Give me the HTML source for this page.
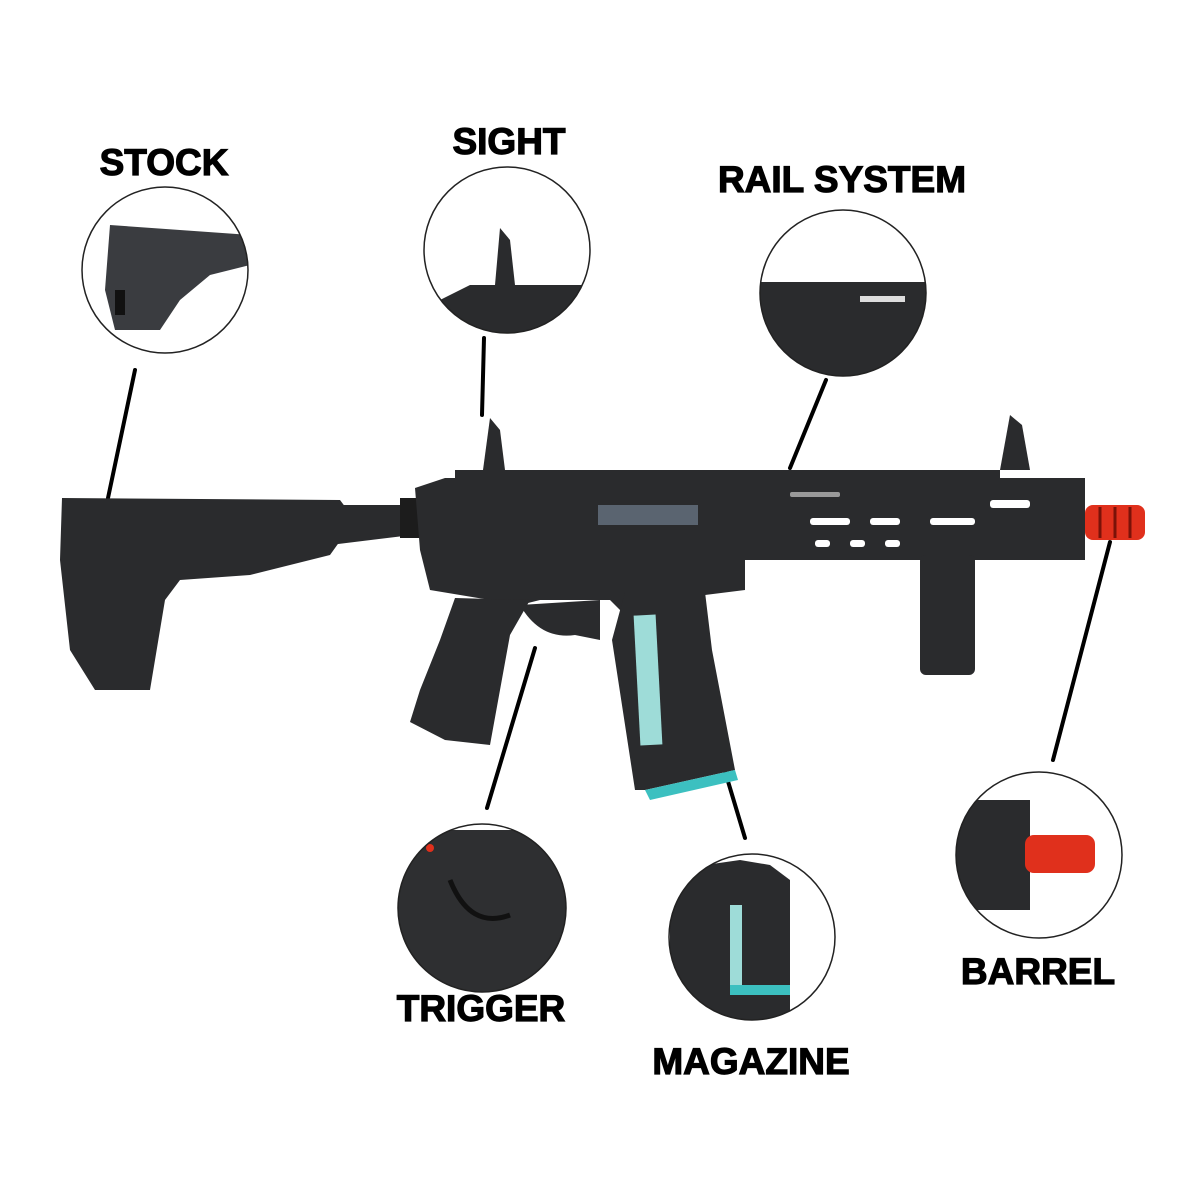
<!DOCTYPE html>
<html><head><meta charset="utf-8"><style>
html,body{margin:0;padding:0;background:#fff;}
svg{display:block}
text{font-family:"Liberation Sans",sans-serif;font-weight:bold;fill:#000;stroke:#000;stroke-width:1.2;text-anchor:middle}
</style></head><body>
<svg width="1200" height="1200" viewBox="0 0 1200 1200" xmlns="http://www.w3.org/2000/svg">
<defs>
<clipPath id="c1"><circle cx="165" cy="270" r="83"/></clipPath>
<clipPath id="c2"><circle cx="507" cy="250" r="83"/></clipPath>
<clipPath id="c3"><circle cx="843" cy="293" r="83"/></clipPath>
<clipPath id="c4"><circle cx="1039" cy="855" r="83"/></clipPath>
<clipPath id="c5"><circle cx="482" cy="908" r="84"/></clipPath>
<clipPath id="c6"><circle cx="752" cy="937" r="83"/></clipPath>
</defs>
<rect width="1200" height="1200" fill="#fff"/>

<text x="164" y="175" font-size="37">STOCK</text>
<text x="509" y="154" font-size="37">SIGHT</text>
<text x="842" y="192" font-size="37">RAIL SYSTEM</text>
<text x="1038" y="984" font-size="37">BARREL</text>
<text x="481" y="1021" font-size="37">TRIGGER</text>
<text x="751" y="1074" font-size="37">MAGAZINE</text>

<g stroke="#000" stroke-width="4" stroke-linecap="round">
<line x1="135" y1="370" x2="108" y2="498"/>
<line x1="484" y1="338" x2="482" y2="415"/>
<line x1="826" y1="380" x2="790" y2="468"/>
<line x1="1110" y1="542" x2="1053" y2="760"/>
<line x1="535" y1="648" x2="487" y2="808"/>
<line x1="712" y1="728" x2="745" y2="838"/>
</g>

<g fill="#2a2b2d">
<polygon points="62,498 340,500 355,520 330,555 250,575 180,580 165,600 150,690 95,690 70,650 60,560"/>
<polygon points="330,505 410,505 412,535 330,545"/>
<rect x="400" y="498" width="20" height="40" fill="#1c1c1c"/>
<polygon points="415,488 445,478 745,478 745,590 705,595 700,620 630,620 610,600 540,600 520,605 430,590 420,550"/>
<rect x="740" y="478" width="345" height="82"/>
<rect x="455" y="470" width="545" height="10"/>
<polygon points="455,598 530,600 510,635 490,745 445,740 410,722 420,690 440,640"/>
<path d="M520,605 Q540,640 575,635 L600,640 L600,600 Z"/>
<polygon points="625,592 705,592 712,650 735,770 645,790 635,790 612,640"/>
<rect x="920" y="555" width="55" height="120" rx="6"/>
<polygon points="483,470 490,418 500,430 505,470"/>
<polygon points="1000,470 1010,415 1022,425 1030,470"/>
</g>
<rect x="637" y="615" width="22" height="130" fill="#9edcd8" transform="rotate(-3 648 680)"/>
<polygon points="645,790 735,770 738,780 650,800" fill="#3cc0c0"/>
<g fill="#fff">
<rect x="810" y="518" width="40" height="7" rx="3"/>
<rect x="870" y="518" width="30" height="7" rx="3"/>
<rect x="930" y="518" width="45" height="7" rx="3"/>
<rect x="815" y="540" width="15" height="7" rx="3"/>
<rect x="850" y="540" width="15" height="7" rx="3"/>
<rect x="885" y="540" width="15" height="7" rx="3"/>
<rect x="990" y="500" width="40" height="8" rx="3"/>
<rect x="790" y="492" width="50" height="5" rx="2" fill="#999"/>
</g>
<rect x="598" y="505" width="100" height="20" fill="#5a6470"/>
<rect x="1085" y="505" width="60" height="35" rx="8" fill="#e0301c"/>
<g stroke="#7a1208" stroke-width="3">
<line x1="1100" y1="507" x2="1100" y2="538"/><line x1="1115" y1="507" x2="1115" y2="538"/><line x1="1130" y1="507" x2="1130" y2="538"/>
</g>

<g clip-path="url(#c1)">
<polygon points="110,225 250,235 250,265 210,275 180,300 160,330 115,330 105,290" fill="#3a3c40"/>
<rect x="115" y="290" width="10" height="25" fill="#111"/>
</g>
<g clip-path="url(#c2)">
<polygon points="440,300 470,285 600,285 600,340 440,340" fill="#2a2b2d"/>
<polygon points="495,285 500,228 510,240 515,285" fill="#2a2b2d"/>
</g>
<g clip-path="url(#c3)">
<rect x="755" y="282" width="180" height="100" fill="#2a2b2d"/>
<rect x="860" y="296" width="45" height="6" fill="#ddd"/>
</g>
<g clip-path="url(#c4)">
<rect x="950" y="800" width="80" height="110" fill="#2a2b2d"/>
<rect x="1025" y="835" width="70" height="38" rx="9" fill="#e0301c"/>
</g>
<g clip-path="url(#c5)">
<rect x="395" y="830" width="180" height="170" fill="#2e2f31"/>
<path d="M450,880 Q470,930 510,915" stroke="#111" stroke-width="5" fill="none"/>
<circle cx="430" cy="848" r="4" fill="#e0301c"/>
</g>
<g clip-path="url(#c6)">
<polygon points="670,870 740,860 770,865 790,880 790,1020 670,1020" fill="#2a2b2d"/>
<rect x="730" y="905" width="12" height="80" fill="#9edcd8"/>
<rect x="730" y="985" width="60" height="10" fill="#3cc0c0"/>
</g>

<g fill="none" stroke="#222" stroke-width="1.5">
<circle cx="165" cy="270" r="83"/>
<circle cx="507" cy="250" r="83"/>
<circle cx="843" cy="293" r="83"/>
<circle cx="1039" cy="855" r="83"/>
<circle cx="482" cy="908" r="84"/>
<circle cx="752" cy="937" r="83"/>
</g>
</svg>
</body></html>
